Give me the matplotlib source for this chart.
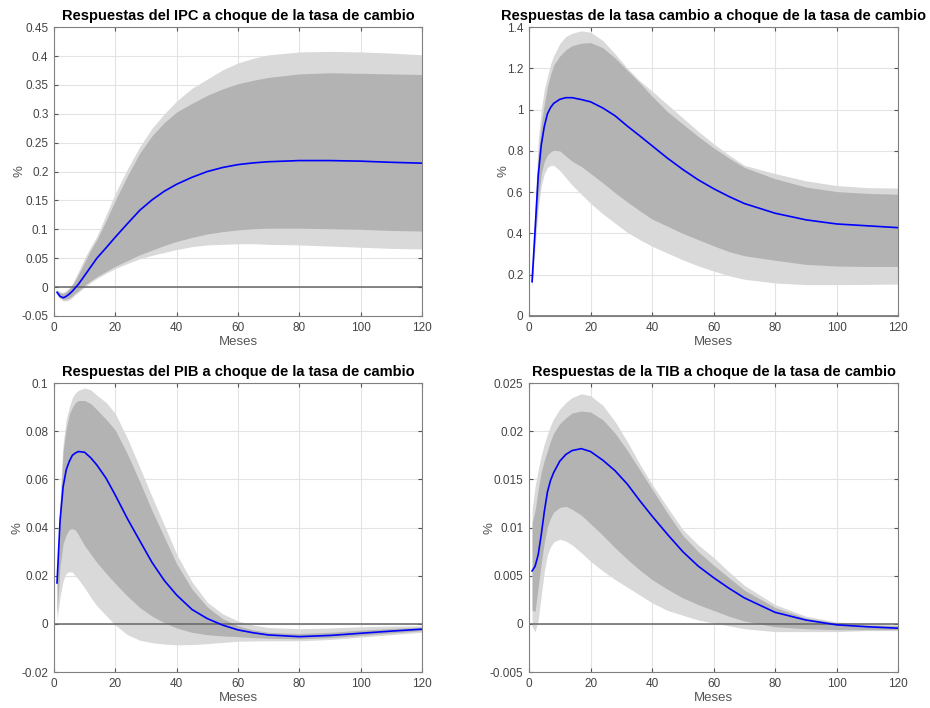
import numpy as np
import matplotlib
matplotlib.use("Agg")
import matplotlib.pyplot as plt

plt.rcParams['font.family'] = ['Liberation Sans', 'DejaVu Sans']

meses = [1, 2, 3, 4, 5, 6, 7, 8, 10, 12, 14, 17, 20, 24, 28, 32, 36, 40, 45, 50, 55, 60, 65, 70, 80, 90, 100, 110, 120]

# IPC
ipc_med = [-0.009, -0.016, -0.0185, -0.016, -0.012, -0.007, -0.001, 0.005, 0.020, 0.035, 0.050, 0.068, 0.0865, 0.110, 0.133,
           0.151, 0.166, 0.178, 0.190, 0.200, 0.207, 0.212, 0.215, 0.217, 0.219, 0.219, 0.218, 0.216, 0.2145]
ipc_hi90 = [-0.004, -0.008, -0.009, -0.006, -0.001, 0.006, 0.016, 0.027, 0.050, 0.070, 0.088, 0.125, 0.162, 0.205, 0.243,
            0.275, 0.300, 0.322, 0.344, 0.360, 0.376, 0.388, 0.396, 0.402, 0.407, 0.408, 0.407, 0.405, 0.402]
ipc_hi68 = [-0.006, -0.010, -0.011, -0.008, -0.003, 0.003, 0.012, 0.022, 0.043, 0.064, 0.082, 0.115, 0.150, 0.193, 0.232,
            0.262, 0.285, 0.303, 0.318, 0.332, 0.343, 0.352, 0.358, 0.363, 0.369, 0.371, 0.370, 0.369, 0.368]
ipc_lo68 = [-0.012, -0.018, -0.021, -0.021, -0.019, -0.015, -0.010, -0.006, 0.003, 0.011, 0.018, 0.027, 0.036, 0.046, 0.056,
            0.064, 0.072, 0.079, 0.086, 0.092, 0.096, 0.099, 0.101, 0.102, 0.102, 0.101, 0.100, 0.098, 0.097]
ipc_lo90 = [-0.014, -0.020, -0.024, -0.024, -0.022, -0.018, -0.013, -0.009, 0.000, 0.008, 0.015, 0.024, 0.032, 0.041, 0.049,
            0.055, 0.060, 0.065, 0.070, 0.073, 0.074, 0.075, 0.075, 0.074, 0.073, 0.071, 0.069, 0.067, 0.066]

# tasa de cambio
tc_med = [0.166, 0.42, 0.68, 0.83, 0.92, 0.98, 1.01, 1.03, 1.05, 1.058, 1.058, 1.049, 1.038, 1.008, 0.97,
          0.92, 0.873, 0.825, 0.765, 0.71, 0.66, 0.617, 0.579, 0.545, 0.498, 0.466, 0.446, 0.437, 0.428]
tc_hi90 = [0.20, 0.55, 0.85, 1.00, 1.10, 1.16, 1.22, 1.26, 1.32, 1.355, 1.37, 1.382, 1.375, 1.335, 1.27,
           1.20, 1.14, 1.09, 1.025, 0.96, 0.895, 0.835, 0.78, 0.73, 0.69, 0.655, 0.632, 0.622, 0.62]
tc_hi68 = [0.19, 0.50, 0.78, 0.93, 1.03, 1.11, 1.17, 1.215, 1.26, 1.29, 1.31, 1.322, 1.325, 1.30, 1.25,
           1.19, 1.13, 1.065, 0.99, 0.93, 0.87, 0.815, 0.765, 0.72, 0.665, 0.625, 0.603, 0.594, 0.59]
tc_lo68 = [0.15, 0.38, 0.57, 0.69, 0.75, 0.78, 0.795, 0.803, 0.80, 0.775, 0.75, 0.725, 0.691, 0.645, 0.597,
           0.552, 0.51, 0.47, 0.435, 0.40, 0.37, 0.34, 0.312, 0.292, 0.27, 0.25, 0.242, 0.24, 0.24]
tc_lo90 = [0.13, 0.34, 0.52, 0.63, 0.69, 0.72, 0.73, 0.73, 0.705, 0.67, 0.635, 0.59, 0.546, 0.495, 0.45,
           0.405, 0.37, 0.338, 0.305, 0.272, 0.243, 0.218, 0.195, 0.178, 0.16, 0.152, 0.152, 0.153, 0.155]

# PIB
pib_med = [0.017, 0.043, 0.057, 0.064, 0.0675, 0.070, 0.071, 0.0716, 0.0713, 0.069, 0.066, 0.0605, 0.0535, 0.0436, 0.0345,
           0.0255, 0.018, 0.012, 0.006, 0.0022, -0.0005, -0.0025, -0.0037, -0.0046, -0.0053, -0.0048, -0.0039, -0.003, -0.0022]
pib_hi90 = [0.020, 0.053, 0.075, 0.085, 0.090, 0.094, 0.096, 0.097, 0.098, 0.0972, 0.095, 0.092, 0.0874, 0.077, 0.065,
            0.0528, 0.041, 0.029, 0.0175, 0.009, 0.0042, 0.0012, -0.0005, -0.0015, -0.002, -0.0017, -0.0012, -0.0009, -0.0008]
pib_hi68 = [0.019, 0.048, 0.072, 0.081, 0.087, 0.090, 0.092, 0.0928, 0.0928, 0.0915, 0.089, 0.085, 0.0805, 0.0705, 0.059,
            0.047, 0.036, 0.025, 0.0145, 0.007, 0.0022, -0.0008, -0.0025, -0.0035, -0.004, -0.0035, -0.0026, -0.0019, -0.0013]
pib_lo68 = [0.004, 0.024, 0.0334, 0.037, 0.0392, 0.0396, 0.039, 0.037, 0.0325, 0.029, 0.0255, 0.021, 0.0168, 0.0115, 0.0068,
            0.0032, 0.0005, -0.0017, -0.0035, -0.0045, -0.005, -0.0053, -0.0057, -0.006, -0.0062, -0.0057, -0.0048, -0.0038, -0.0028]
pib_lo90 = [0.0015, 0.0113, 0.018, 0.021, 0.0217, 0.0215, 0.020, 0.0185, 0.015, 0.011, 0.0075, 0.0035, -0.0005, -0.0045, -0.0068,
            -0.0078, -0.0084, -0.0087, -0.0086, -0.0082, -0.0077, -0.0072, -0.0071, -0.007, -0.007, -0.0065, -0.0055, -0.0045, -0.0035]

# TIB
tib_med = [0.0055, 0.006, 0.0072, 0.0093, 0.0117, 0.0137, 0.0149, 0.0157, 0.0169, 0.0176, 0.018, 0.0182, 0.0179, 0.017, 0.0159,
           0.0145, 0.0128, 0.0112, 0.0093, 0.0075, 0.006, 0.0048, 0.0037, 0.0027, 0.0012, 0.0004, -0.0001, -0.0003, -0.00045]
tib_hi90 = [0.0118, 0.0143, 0.016, 0.0175, 0.0187, 0.0197, 0.0206, 0.0213, 0.0223, 0.023, 0.0235, 0.0239, 0.0237, 0.0227, 0.021,
            0.0189, 0.0166, 0.0145, 0.0121, 0.0098, 0.0082, 0.0069, 0.0054, 0.004, 0.002, 0.0008, 0.0002, 0.0, -0.0001]
tib_hi68 = [0.0105, 0.0118, 0.014, 0.0158, 0.017, 0.018, 0.019, 0.0198, 0.0208, 0.0214, 0.0219, 0.0221, 0.022, 0.0212, 0.0198,
            0.018, 0.016, 0.014, 0.0115, 0.0092, 0.0075, 0.0061, 0.0048, 0.0035, 0.0017, 0.0006, 0.0001, -0.0001, -0.0002]
tib_lo68 = [0.0014, 0.0013, 0.0039, 0.0063, 0.0085, 0.0101, 0.011, 0.0116, 0.0121, 0.0122, 0.0119, 0.0113, 0.0104, 0.0092, 0.0079,
            0.0067, 0.0056, 0.0046, 0.0036, 0.0027, 0.002, 0.0014, 0.0008, 0.0003, -0.0003, -0.0005, -0.0006, -0.0006, -0.0006]
tib_lo90 = [-0.0003, -0.0008, 0.0004, 0.003, 0.0055, 0.0072, 0.008, 0.0085, 0.0088, 0.0086, 0.0082, 0.0074, 0.0065, 0.0055, 0.0046,
            0.0038, 0.003, 0.0022, 0.0014, 0.0009, 0.0004, 0.0001, -0.0002, -0.0005, -0.0008, -0.0008, -0.0008, -0.0007, -0.0007]

titulos = ['Respuestas del IPC a choque de la tasa de cambio',
           'Respuestas de la tasa cambio a choque de la tasa de cambio',
           'Respuestas del PIB a choque de la tasa de cambio',
           'Respuestas de la TIB a choque de la tasa de cambio']

paneles = [
    (ipc_med, ipc_hi90, ipc_hi68, ipc_lo68, ipc_lo90, (-0.05, 0.45), np.arange(-0.05, 0.451, 0.05),
     ['-0.05', '0', '0.05', '0.1', '0.15', '0.2', '0.25', '0.3', '0.35', '0.4', '0.45']),
    (tc_med, tc_hi90, tc_hi68, tc_lo68, tc_lo90, (0, 1.4), np.arange(0, 1.41, 0.2),
     ['0', '0.2', '0.4', '0.6', '0.8', '1', '1.2', '1.4']),
    (pib_med, pib_hi90, pib_hi68, pib_lo68, pib_lo90, (-0.02, 0.1), np.arange(-0.02, 0.101, 0.02),
     ['-0.02', '0', '0.02', '0.04', '0.06', '0.08', '0.1']),
    (tib_med, tib_hi90, tib_hi68, tib_lo68, tib_lo90, (-0.005, 0.025), np.arange(-0.005, 0.0251, 0.005),
     ['-0.005', '0', '0.005', '0.01', '0.015', '0.02', '0.025']),
]

posiciones = [[0.058, 0.5537, 0.3957, 0.408],
              [0.5688, 0.5537, 0.397, 0.408],
              [0.058, 0.0508, 0.3957, 0.408],
              [0.5688, 0.0508, 0.397, 0.408]]
ylab_x = [-0.076, -0.052, -0.082, -0.09]

fig = plt.figure(figsize=(9.3, 7.08), dpi=100)

for i in range(4):
    med, hi90, hi68, lo68, lo90, ylim, yt, ytl = paneles[i]
    ax = fig.add_axes(posiciones[i])
    ax.fill_between(meses, lo90, hi90, color='#d9d9d9', linewidth=0)
    ax.fill_between(meses, lo68, hi68, color='#b3b3b3', linewidth=0)
    ax.axhline(0, color='#666666', linewidth=1.1)
    ax.plot(meses, med, color='#0000ff', linewidth=1.2)
    ax.set_xlim(0, 120)
    ax.set_ylim(*ylim)
    ax.set_xticks(range(0, 121, 20))
    ax.set_yticks(yt)
    ax.set_yticklabels(ytl)
    ax.grid(True, color='#e3e3e3', linewidth=0.8)
    ax.set_axisbelow(True)
    for s in ax.spines.values():
        s.set_color('#808080')
    ax.tick_params(direction='in', length=3, color='#555555', labelcolor='#444444', labelsize=8.5,
                   top=True, right=True, labeltop=False, labelright=False, pad=4)
    ax.set_title(titulos[i], fontsize=10.5, fontweight='bold', pad=5)
    ax.set_xlabel('Meses', fontsize=9.5, color='#555555')
    ax.xaxis.set_label_coords(0.5, -0.068)
    ax.set_ylabel('%', fontsize=9.5, color='#555555')
    ax.yaxis.set_label_coords(ylab_x[i], 0.5)

fig.savefig('out.png', dpi=100)
